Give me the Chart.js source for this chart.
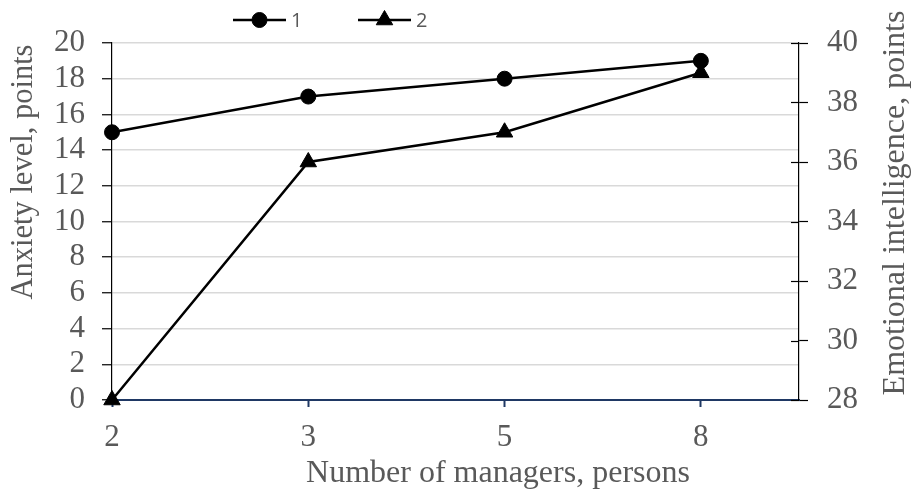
<!DOCTYPE html>
<html lang="en">
<head>
  <meta charset="UTF-8" />
  <title>Anxiety level and emotional intelligence</title>
  <script src="https://cdn.jsdelivr.net/npm/chart.js"></script>
  <style>
    body { margin: 0; background: #ffffff; }
    #wrap { width: 919px; height: 497px; }
  </style>
</head>
<body>
  <div id="wrap"><canvas id="chart" width="919" height="497"></canvas></div>

  <script>
    // data
    const managers = ['2', '3', '5', '8'];
    const anxiety = [15, 17, 18, 19];
    const emotional = [28, 36, 37, 39];
    const seriesNames = ['1', '2'];

    const leftTitle = 'Anxiety level, points';
    const rightTitle = 'Emotional intelligence, points';
    const bottomTitle = 'Number of managers, persons';

    const grey = '#595959';
    const navy = '#1f3864';
    const serif = "'Liberation Serif', 'Times New Roman', serif";

    // legend entries with line + marker, like the office chart
    const legendPlugin = {
      id: 'lineLegend',
      afterDraw(chart) {
        const ctx = chart.ctx;
        const spots = [233, 358];
        ctx.save();
        chart.data.datasets.forEach((ds, i) => {
          const x0 = spots[i], y = 20, w = 53;
          ctx.strokeStyle = '#000';
          ctx.fillStyle = '#000';
          ctx.lineWidth = 2.5;
          ctx.beginPath();
          ctx.moveTo(x0, y);
          ctx.lineTo(x0 + w, y);
          ctx.stroke();
          ctx.lineWidth = 1;
          Chart.helpers.drawPoint(ctx, {
            pointStyle: ds.pointStyle,
            radius: ds.pointRadius,
            borderWidth: 1
          }, x0 + w / 2, y);
          ctx.fillStyle = grey;
          ctx.font = "20px 'Open Sans', 'Liberation Sans', sans-serif";
          ctx.textAlign = 'left';
          ctx.textBaseline = 'middle';
          ctx.fillText(ds.label, x0 + w + 5, y + 1);
        });
        ctx.restore();
      }
    };

    // axis titles and the inner half of the right axis ticks
    const titlesPlugin = {
      id: 'axisTitles',
      afterDraw(chart) {
        const ctx = chart.ctx;
        const y2 = chart.scales.y2;
        ctx.save();
        ctx.strokeStyle = '#000';
        ctx.lineWidth = 1.2;
        y2.ticks.forEach(t => {
          const py = Math.round(y2.getPixelForValue(t.value)) + 0.5;
          ctx.beginPath();
          ctx.moveTo(y2.left - 8, py);
          ctx.lineTo(y2.left, py);
          ctx.stroke();
        });

        ctx.fillStyle = grey;
        ctx.textAlign = 'center';
        ctx.textBaseline = 'middle';
        ctx.font = '32px ' + serif;
        ctx.fillText(bottomTitle, 498, 474);

        ctx.font = '30.5px ' + serif;
        ctx.translate(24, 172);
        ctx.rotate(-Math.PI / 2);
        ctx.fillText(leftTitle, 0, 0);
        ctx.setTransform(1, 0, 0, 1, 0, 0);
        ctx.font = '32px ' + serif;
        ctx.translate(896, 203);
        ctx.rotate(-Math.PI / 2);
        ctx.fillText(rightTitle, 0, 0);
        ctx.restore();
      }
    };

    const tickFont = { family: serif, size: 31 };

    const ctx = document.getElementById('chart').getContext('2d');
    const chart = new Chart(ctx, {
      type: 'line',
      data: {
        datasets: [
          {
            label: seriesNames[0],
            data: anxiety.map((v, i) => ({ x: i, y: v })),
            yAxisID: 'y',
            borderColor: '#000',
            backgroundColor: '#000',
            borderWidth: 2.5,
            pointStyle: 'circle',
            pointRadius: 7.5,
            pointBorderWidth: 1,
            clip: false
          },
          {
            label: seriesNames[1],
            data: emotional.map((v, i) => ({ x: i, y: v })),
            yAxisID: 'y2',
            borderColor: '#000',
            backgroundColor: '#000',
            borderWidth: 2.5,
            pointStyle: 'triangle',
            pointRadius: 9.5,
            pointBorderWidth: 1,
            clip: false
          }
        ]
      },
      options: {
        responsive: false,
        animation: false,
        layout: { padding: { top: 43, left: 0, right: 0, bottom: 0 } },
        plugins: {
          legend: { display: false },
          tooltip: { enabled: false }
        },
        scales: {
          x: {
            type: 'linear',
            min: 0,
            max: 3.5,
            afterBuildTicks: s => { s.ticks = managers.map((m, i) => ({ value: i })); },
            afterFit: s => { s.height = 97; },
            grid: { drawOnChartArea: false, tickLength: 7, tickColor: navy, tickWidth: 2 },
            border: { color: navy, width: 2 },
            ticks: {
              callback: v => managers[v],
              color: grey,
              font: tickFont,
              padding: 12,
              maxRotation: 0,
              autoSkip: false
            }
          },
          y: {
            position: 'left',
            min: 0,
            max: 20,
            afterFit: s => { s.width = 112; },
            grid: {
              color: c => (c.tick && c.tick.value === 0 ? 'rgba(0,0,0,0)' : '#d9d9d9'),
              lineWidth: 1.5,
              tickColor: '#000',
              tickLength: 10,
              tickWidth: 1.2
            },
            border: { color: '#000', width: 1.2 },
            ticks: {
              stepSize: 2,
              autoSkip: false,
              color: grey,
              font: tickFont,
              padding: 17
            }
          },
          y2: {
            position: 'right',
            min: 28,
            max: 40,
            afterFit: s => { s.width = 120; },
            grid: { drawOnChartArea: false, tickColor: '#000', tickLength: 9, tickWidth: 1.2 },
            border: { color: '#000', width: 1.2 },
            ticks: {
              stepSize: 2,
              autoSkip: false,
              color: grey,
              font: tickFont,
              padding: 19
            }
          }
        }
      },
      plugins: [legendPlugin, titlesPlugin]
    });
  </script>
</body>
</html>
